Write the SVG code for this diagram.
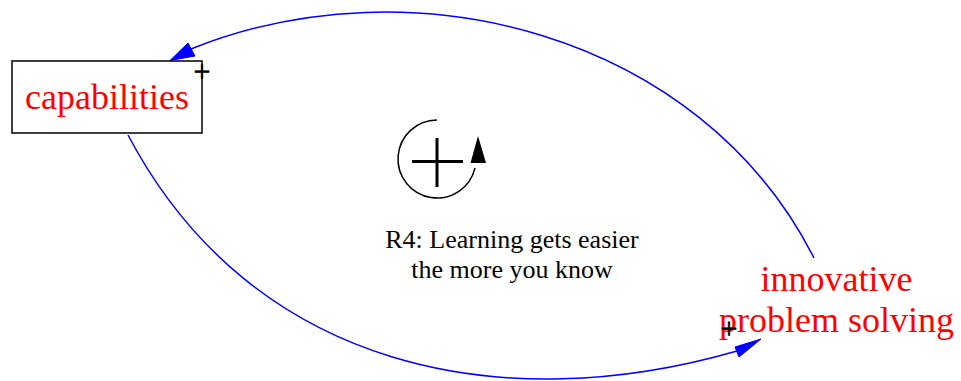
<svg xmlns="http://www.w3.org/2000/svg" width="961" height="381" viewBox="0 0 961 381">
<defs>
<style>
.edge{fill:none;stroke:#0000ff;stroke-width:1.5}
.head{fill:#0000ff;stroke:#0000ff;stroke-width:1}
</style>
</defs>
<rect width="961" height="381" fill="#fff"/>
<g id="connectors">
<path class="edge" d="M814,258 C700,33 412,-40 191,49"/>
<polygon class="head" points="170,60.5 188,43 195,56"/>
<path class="edge" d="M128,135 C253,372 505,418 737,351"/>
<polygon class="head" points="761,339 735,347 739,357"/>
</g>
<g id="capabilities">
<rect x="12" y="61" width="190" height="72" fill="#fff" stroke="#000" stroke-width="1.5"/>
<text x="107" y="108.5" font-family="Liberation Serif, Times New Roman, serif" font-size="36" fill="#ff0000" text-anchor="middle">capabilities</text>
</g>
<g id="innovative_problem_solving">
<text x="836.5" y="291" font-family="Liberation Serif, Times New Roman, serif" font-size="36" fill="#ff0000" text-anchor="middle">innovative</text>
<text x="836.5" y="332" font-family="Liberation Serif, Times New Roman, serif" font-size="36" fill="#ff0000" text-anchor="middle">problem solving</text>
</g>
<g id="polarities">
<text x="202" y="81" font-family="Liberation Serif, Times New Roman, serif" font-size="30" fill="#000" stroke="#000" stroke-width="0.6" text-anchor="middle">+</text>
<text x="729" y="338" font-family="Liberation Serif, Times New Roman, serif" font-size="30" fill="#000" stroke="#000" stroke-width="0.6" text-anchor="middle">+</text>
</g>
<g id="loop_R4">
<path d="M437,120 A39,39 0 1 0 475,167.8" fill="none" stroke="#000" stroke-width="1.5"/>
<polygon points="478,136 470.5,163 486,163" fill="#000"/>
<line x1="412" y1="161.5" x2="463" y2="161.5" stroke="#000" stroke-width="3"/>
<line x1="437" y1="138" x2="437" y2="187" stroke="#000" stroke-width="3"/>
<text x="512" y="248" font-family="Liberation Serif, Times New Roman, serif" font-size="26" fill="#000" text-anchor="middle">R4: Learning gets easier</text>
<text x="512" y="277.5" font-family="Liberation Serif, Times New Roman, serif" font-size="26" fill="#000" text-anchor="middle">the more you know</text>
</g>
</svg>
